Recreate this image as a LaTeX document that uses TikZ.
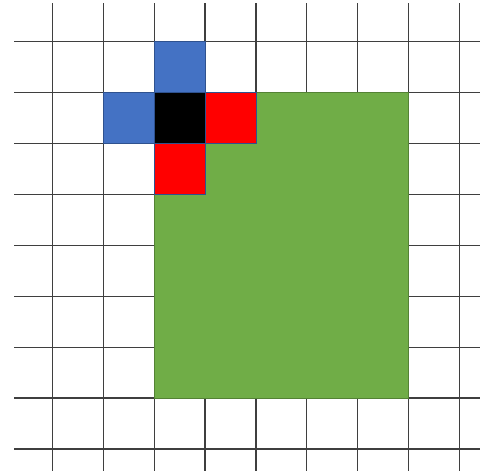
\documentclass[tikz,border=0pt]{standalone}
\usetikzlibrary{calc}
\definecolor{gridgray}{HTML}{3F3F3F}
\definecolor{cellblue}{HTML}{4472C4}
\definecolor{cellred}{HTML}{FF0000}
\definecolor{cellgreen}{HTML}{70AD47}
\definecolor{celledge}{HTML}{2F528F}
\definecolor{greenedge}{HTML}{548235}
\begin{document}
\begin{tikzpicture}[x=50.9pt, y=-50.9pt,
    gridline/.style={draw=gridgray, line width=1.2pt},
    cellbox/.style={draw=celledge, line width=0.7pt}]
  \useasboundingbox (-1.0275,-0.8193) rectangle ++(9.489,9.293);
  % grid
  \foreach \i in {0,...,8} {
    \draw[gridline] (\i,-0.76) -- (\i,8.43);
    \draw[gridline] (-0.75,\i) -- (8.40,\i);
  }
  % green block
  \fill[cellgreen, draw=greenedge, line width=0.7pt] (2,1) rectangle (7,7);
  % neighbour cells
  \fill[cellblue, cellbox] (2,0) rectangle (3,1);
  \fill[cellblue, cellbox] (1,1) rectangle (2,2);
  \fill[cellred, cellbox] (3,1) rectangle (4,2);
  \fill[cellred, cellbox] (2,2) rectangle (3,3);
  % centre cell
  \fill[black, cellbox] (2,1) rectangle (3,2);
\end{tikzpicture}
\end{document}
